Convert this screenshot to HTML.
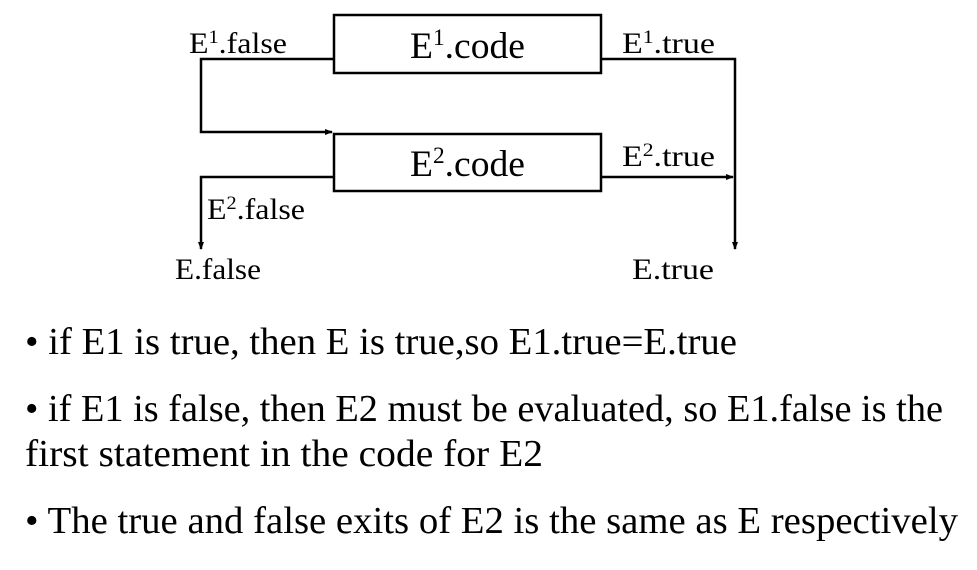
<!DOCTYPE html>
<html><head><meta charset="utf-8"><style>
html,body{margin:0;padding:0;background:#fff;width:977px;height:570px;overflow:hidden}
svg{display:block}
text{font-family:"Liberation Serif",serif;fill:#000}
</style></head><body>
<svg width="977" height="570" viewBox="0 0 977 570">
<defs><marker id="ah" markerWidth="8" markerHeight="8" refX="7" refY="4" orient="auto" markerUnits="userSpaceOnUse"><path d="M0,1 L8,4 L0,7 Z" fill="#000"/></marker></defs>
<g stroke="#000" stroke-width="2.5" fill="none">
<rect x="334" y="15" width="267" height="58"/>
<rect x="334" y="134" width="267" height="57"/>
<polyline points="334,59 201,59 201,132 332,132" marker-end="url(#ah)"/>
<polyline points="601,59 735,59 735,249" marker-end="url(#ah)"/>
<polyline points="601,177 733,177" marker-end="url(#ah)"/>
<polyline points="334,177 201,177 201,249" marker-end="url(#ah)"/>
</g>
<g font-size="30">
<text x="189" y="53" textLength="98" lengthAdjust="spacingAndGlyphs">E<tspan dy="-10" font-size="19">1</tspan><tspan dy="10">.false</tspan></text>
<text x="622" y="53" textLength="93" lengthAdjust="spacingAndGlyphs">E<tspan dy="-10" font-size="19">1</tspan><tspan dy="10">.true</tspan></text>
<text x="622" y="166" textLength="93" lengthAdjust="spacingAndGlyphs">E<tspan dy="-10" font-size="19">2</tspan><tspan dy="10">.true</tspan></text>
<text x="207" y="219" textLength="98" lengthAdjust="spacingAndGlyphs">E<tspan dy="-10" font-size="19">2</tspan><tspan dy="10">.false</tspan></text>
<text x="175" y="279" textLength="86" lengthAdjust="spacingAndGlyphs">E.false</text>
<text x="632" y="279" textLength="82" lengthAdjust="spacingAndGlyphs">E.true</text>
</g>
<g font-size="37">
<text x="410" y="58" textLength="115" lengthAdjust="spacingAndGlyphs">E<tspan dy="-13" font-size="23">1</tspan><tspan dy="13">.code</tspan></text>
<text x="410" y="176" textLength="115" lengthAdjust="spacingAndGlyphs">E<tspan dy="-13" font-size="23">2</tspan><tspan dy="13">.code</tspan></text>
</g>
<g font-size="38">
<text x="25" y="354" textLength="712" lengthAdjust="spacingAndGlyphs">• if E1 is true, then E is true,so E1.true=E.true</text>
<text x="25" y="421" textLength="918" lengthAdjust="spacingAndGlyphs">• if E1 is false, then E2 must be evaluated, so E1.false is the</text>
<text x="25" y="466" textLength="518" lengthAdjust="spacingAndGlyphs">first statement in the code for E2</text>
<text x="25" y="533" textLength="933" lengthAdjust="spacingAndGlyphs">• The true and false exits of E2 is the same as E respectively</text>
</g>
</svg>
</body></html>
